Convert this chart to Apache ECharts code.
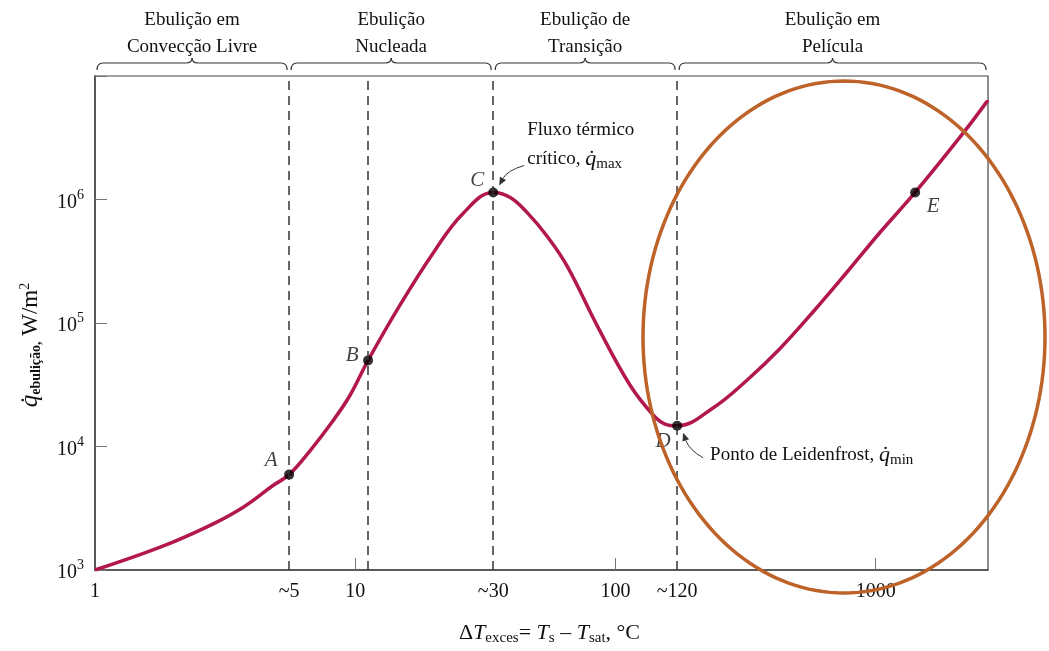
<!DOCTYPE html>
<html>
<head>
<meta charset="utf-8">
<script src="https://cdn.jsdelivr.net/npm/echarts@6/dist/echarts.min.js"></script>
<style>
  html, body { margin: 0; background: #fff; }
  #main { width: 1049px; height: 651px; }
</style>
</head>
<body>
<div id="main"></div>
<script>
// boiling curve (log-log)
const deltaT = [1, 1.78, 2.77, 3.7, 4.83, 5.57, 6.7, 8.2, 9.55, 11.2, 14.87, 20.26, 25.96, 33.9, 39.4, 45.7, 54.6, 65.2, 85, 113.8, 139.5, 155, 172.5, 237, 320, 429, 575, 776, 1040, 1417, 2170, 2700];
const qFlux = [1000, 1530, 2300, 3210, 4830, 5920, 9230, 16100, 26000, 49800, 140400, 389000, 771800, 1140000, 1040000, 786000, 504000, 289000, 95200, 31300, 18000, 15200, 14700, 20500, 34400, 62200, 123400, 258800, 543000, 1140000, 3460000, 6380000];

const pointNames = ['A', 'B', 'C', 'D', 'E'];
const pointT = [5.57, 11.2, 33.9, 172.5, 1417];
const pointQ = [5920, 49800, 1140000, 14700, 1140000];

const xTickValues = [1, 5.57, 10, 33.9, 100, 172.5, 1000];
const xTickLabels = ['1', '~5', '10', '~30', '100', '~120', '1000'];

const regionBounds = [1, 5.57, 33.9, 172.5, 2700];
const regionNames = ['Ebulição em\nConvecção Livre', 'Ebulição\nNucleada', 'Ebulição de\nTransição', 'Ebulição em\nPelícula'];

const serif = 'Liberation Serif';
const ink = '#111';

// label offsets for A..E
const labelOffsets = [[-18, -14], [-16, -5], [-16, -12], [-14, 16], [18, 14]];

const chart = echarts.init(document.getElementById('main'));

chart.setOption({
  animation: false,
  grid: { left: 95, right: 61, top: 76, bottom: 78, show: true, borderColor: '#444', borderWidth: 1.2 },
  xAxis: {
    type: 'log',
    min: 1,
    max: 2700,
    axisLine: { lineStyle: { color: '#444', width: 1.5 } },
    axisTick: { inside: true, length: 12, customValues: [10, 100, 1000], lineStyle: { color: '#777' } },
    minorTick: { show: false },
    splitLine: { show: false },
    axisLabel: {
      customValues: xTickValues,
      fontFamily: serif,
      fontSize: 20,
      color: ink,
      margin: 12,
      formatter: (v) => {
        let best = 0;
        xTickValues.forEach((t, i) => {
          if (Math.abs(Math.log(t / v)) < Math.abs(Math.log(xTickValues[best] / v))) best = i;
        });
        return xTickLabels[best];
      },
    },
    name: 'Δ{i|T}{sub|exces}= {i|T}{sub|s} – {i|T}{sub|sat}, °C',
    nameLocation: 'middle',
    nameGap: 50,
    nameTextStyle: {
      fontFamily: serif,
      fontSize: 22,
      color: ink,
      padding: [0, 0, 0, 16],
      rich: {
        i: { fontFamily: serif, fontStyle: 'italic', fontSize: 22, color: ink },
        sub: { fontFamily: serif, fontSize: 15, color: ink, padding: [11, 0, 0, 0] },
      },
    },
  },
  yAxis: {
    type: 'log',
    min: 1000,
    max: 10000000,
    axisLine: { lineStyle: { color: '#444', width: 1.5 } },
    axisTick: { inside: true, length: 12, lineStyle: { color: '#777' } },
    minorTick: { show: false },
    splitLine: { show: false },
    axisLabel: {
      fontFamily: serif,
      fontSize: 20,
      color: ink,
      margin: 11,
      formatter: (v) => {
        const e = Math.round(Math.log10(v));
        if (e > 6) return '';
        return '{b|10}{s|' + e + '}';
      },
      rich: {
        b: { fontFamily: serif, fontSize: 20, color: ink, padding: [6, 0, 0, 0] },
        s: { fontFamily: serif, fontSize: 14, color: ink, padding: [0, 0, 9, 0] },
      },
    },
    name: '{q|q̇}{sub|ebulição,} W/m{sup|2}',
    nameLocation: 'middle',
    nameGap: 52,
    nameRotate: 90,
    nameTextStyle: {
      fontFamily: serif,
      fontSize: 23,
      color: ink,
      padding: [0, 44, 0, 0],
      rich: {
        q: { fontFamily: serif, fontStyle: 'italic', fontSize: 25, color: ink },
        sub: { fontFamily: serif, fontWeight: 'bold', fontSize: 14, color: ink, padding: [11, 0, 0, 0] },
        sup: { fontFamily: serif, fontSize: 14, color: ink, padding: [0, 0, 10, 0] },
      },
    },
  },
  series: [
    {
      type: 'line',
      data: deltaT.map((t, i) => [t, qFlux[i]]),
      smooth: 0.4,
      showSymbol: false,
      lineStyle: { color: '#B3174F', width: 3.5 },
      z: 3,
      silent: true,
    },
    {
      type: 'scatter',
      data: pointT.map((t, i) => ({
        value: [t, pointQ[i]],
        name: pointNames[i],
        label: { offset: labelOffsets[i] },
      })),
      symbolSize: 10,
      itemStyle: { color: '#000' },
      label: {
        show: true,
        position: 'inside',
        formatter: (p) => p.name,
        fontFamily: serif,
        fontStyle: 'italic',
        fontSize: 21,
        color: ink,
      },
      markLine: {
        silent: true,
        symbol: 'none',
        label: { show: false },
        lineStyle: { color: '#333', type: [9, 6], width: 1.5 },
        data: pointT.slice(0, 4).map((t) => ({ xAxis: t })),
      },
      z: 4,
    },
  ],
});

// header regions, braces, annotations
const px = (t) => chart.convertToPixel({ xAxisIndex: 0 }, t);
const pt = (t, q) => chart.convertToPixel({ gridIndex: 0 }, [t, q]);

const graphics = [];
const stroke = { stroke: '#333', lineWidth: 1.2, fill: null };

function brace(x0, x1, y) {
  const m = (x0 + x1) / 2;
  graphics.push({ type: 'bezierCurve', shape: { x1: x0, y1: y + 7, x2: x0 + 6, y2: y, cpx1: x0, cpy1: y }, style: stroke });
  graphics.push({ type: 'line', shape: { x1: x0 + 6, y1: y, x2: m - 6, y2: y }, style: stroke });
  graphics.push({ type: 'bezierCurve', shape: { x1: m - 6, y1: y, x2: m, y2: y - 5, cpx1: m, cpy1: y }, style: stroke });
  graphics.push({ type: 'bezierCurve', shape: { x1: m, y1: y - 5, x2: m + 6, y2: y, cpx1: m, cpy1: y }, style: stroke });
  graphics.push({ type: 'line', shape: { x1: m + 6, y1: y, x2: x1 - 6, y2: y }, style: stroke });
  graphics.push({ type: 'bezierCurve', shape: { x1: x1 - 6, y1: y, x2: x1, y2: y + 7, cpx1: x1, cpy1: y }, style: stroke });
}

for (let i = 0; i < regionNames.length; i++) {
  const x0 = px(regionBounds[i]) + 2;
  const x1 = px(regionBounds[i + 1]) - 2;
  brace(x0, x1, 63);
  graphics.push({
    type: 'text',
    style: {
      text: regionNames[i], x: (x0 + x1) / 2, y: 34, align: 'center', verticalAlign: 'middle',
      font: '19px "Liberation Serif"', fill: ink, lineHeight: 27,
    },
  });
}

function arrow(from, ctrl, to) {
  const dx = to[0] - ctrl[0], dy = to[1] - ctrl[1];
  const len = Math.hypot(dx, dy);
  const ux = dx / len, uy = dy / len;
  const bx = to[0] - ux * 8, by = to[1] - uy * 8;
  graphics.push({
    type: 'bezierCurve',
    shape: { x1: from[0], y1: from[1], x2: bx, y2: by, cpx1: ctrl[0], cpy1: ctrl[1] },
    style: { stroke: '#333', lineWidth: 1, fill: null },
  });
  graphics.push({
    type: 'polygon',
    shape: { points: [to, [bx - uy * 3.5, by + ux * 3.5], [bx + uy * 3.5, by - ux * 3.5]] },
    style: { fill: '#333' },
  });
}

const pC = pt(pointT[2], pointQ[2]);
const pD = pt(pointT[3], pointQ[3]);

graphics.push({
  type: 'text',
  style: {
    text: 'Fluxo térmico\ncrítico, {q|q̇}{sub|max}',
    x: pC[0] + 34, y: pC[1] - 77,
    font: '19px "Liberation Serif"', fill: ink, lineHeight: 29,
    rich: {
      q: { fontFamily: serif, fontStyle: 'italic', fontSize: 22, fill: ink },
      sub: { fontFamily: serif, fontSize: 15, fill: ink, padding: [10, 0, 0, 0] },
    },
  },
});
arrow([pC[0] + 31, pC[1] - 27], [pC[0] + 14, pC[1] - 22], [pC[0] + 6, pC[1] - 7]);

graphics.push({
  type: 'text',
  style: {
    text: 'Ponto de Leidenfrost, {q|q̇}{sub|min}',
    x: pD[0] + 33, y: pD[1] + 29, verticalAlign: 'middle',
    font: '19px "Liberation Serif"', fill: ink,
    rich: {
      q: { fontFamily: serif, fontStyle: 'italic', fontSize: 22, fill: ink },
      sub: { fontFamily: serif, fontSize: 15, fill: ink, padding: [10, 0, 0, 0] },
    },
  },
});
arrow([pD[0] + 26, pD[1] + 32], [pD[0] + 12, pD[1] + 24], [pD[0] + 6, pD[1] + 7]);

// highlight ellipse around the film boiling region
const ring = [];
for (let k = 0; k <= 180; k++) {
  const a = (k / 180) * Math.PI * 2;
  ring.push([844 + 201 * Math.cos(a), 337 + 256 * Math.sin(a)]);
}
graphics.push({
  type: 'polyline',
  shape: { points: ring },
  style: { fill: null, stroke: '#BD6228', lineWidth: 3.5 },
  z: 10,
});

chart.setOption({ graphic: graphics });
</script>
</body>
</html>
